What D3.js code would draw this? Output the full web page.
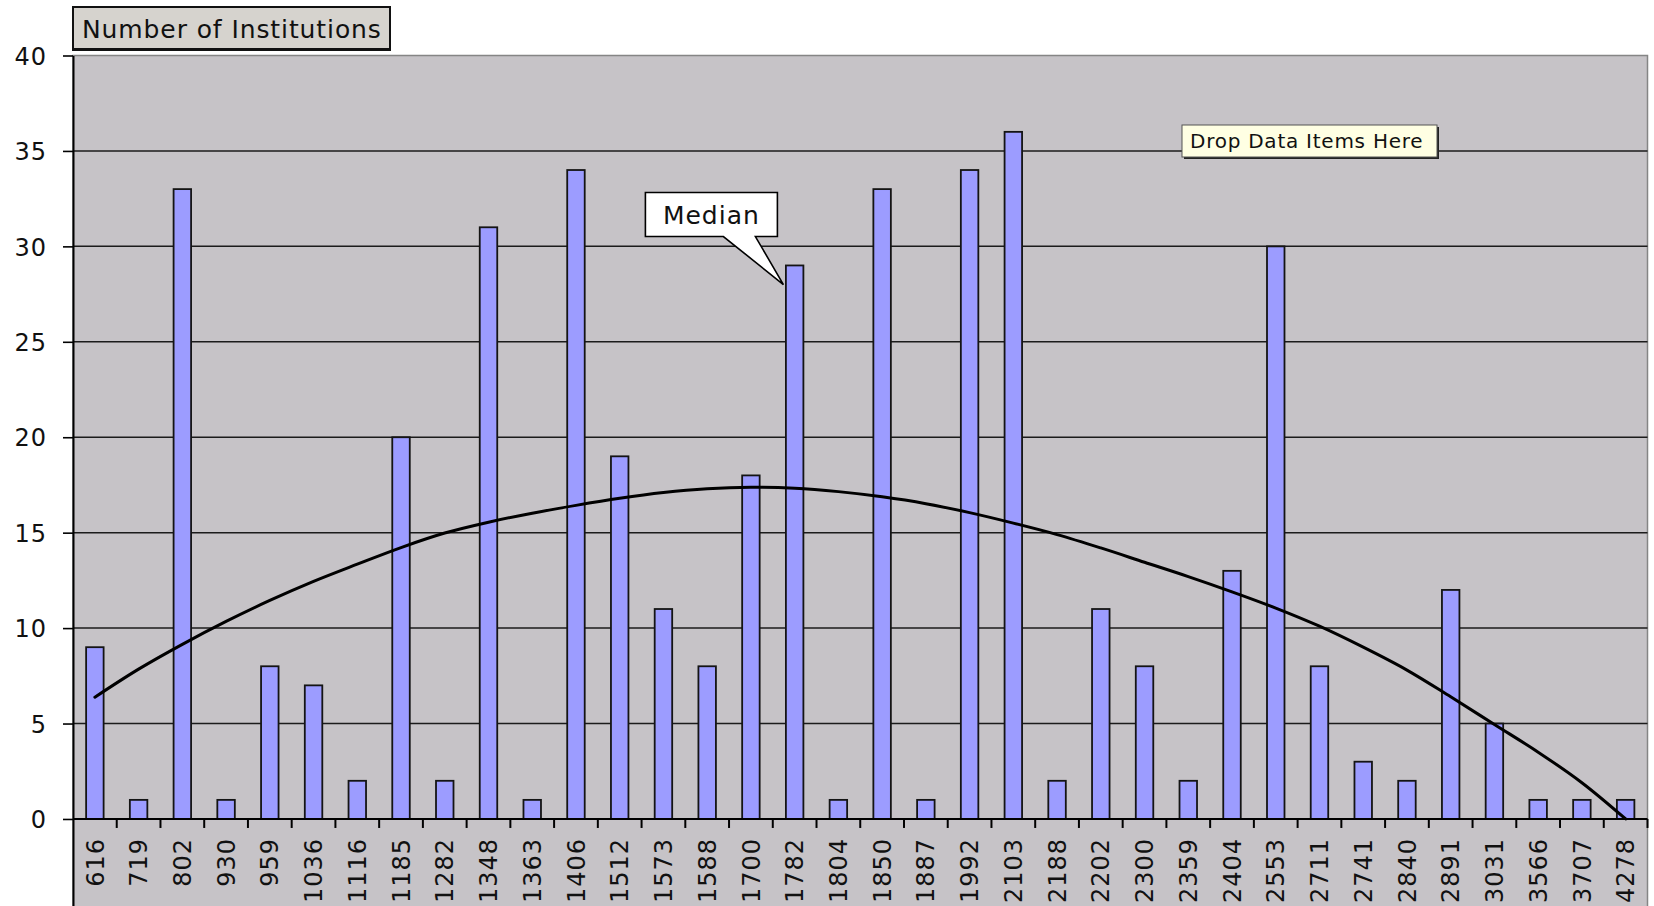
<!DOCTYPE html>
<html>
<head>
<meta charset="utf-8">
<script src="https://cdn.jsdelivr.net/npm/d3@7"></script>
<style>
  html, body { margin: 0; padding: 0; background: #ffffff; }
  svg { display: block; }
  text { font-family: "DejaVu Sans", Verdana, sans-serif; fill: #111; }
</style>
</head>
<body>
<svg id="chart" width="1654" height="906"></svg>
<script>
// ---- data ----
const categories = ["616","719","802","930","959","1036","1116","1185","1282","1348","1363","1406",
  "1512","1573","1588","1700","1782","1804","1850","1887","1992","2103","2188","2202","2300",
  "2359","2404","2553","2711","2741","2840","2891","3031","3566","3707","4278"];
const counts = [9,1,33,1,8,7,2,20,2,31,1,34,19,11,8,18,29,1,33,1,34,36,2,11,8,2,13,30,8,3,2,12,5,1,1,1];
// trendline values at each category
const trend = [6.38,7.85,9.15,10.35,11.45,12.45,13.35,14.22,14.98,15.55,16.02,16.43,16.8,17.1,17.3,17.38,
  17.33,17.15,16.88,16.52,16.05,15.5,14.9,14.2,13.45,12.7,11.9,11.05,10.1,9.0,7.8,6.4,4.95,3.5,1.9,0];
const yTicks = [-5,0,5,10,15,20,25,30,35,40];
const yDomain = [-5, 40];
const titleText = "Number of Institutions";
const medianLabel = "Median";
const medianCategory = "1782";
const medianPointerValue = 28;
const dropText = "Drop Data Items Here";

// ---- layout ----
const W = 1654, H = 906;
const plotLeft = 73, plotRight = 1647.5, plotTop = 55.5;
const svg = d3.select("#chart");

const y = d3.scaleLinear().domain(yDomain).range([914.4, plotTop]);
const xSlot = d3.scaleBand().domain(categories).range([plotLeft, plotRight]);
const x = d3.scaleBand().domain(categories).range([plotLeft, plotRight])
  .paddingInner(0.6).paddingOuter(0.3);

// plot area background
svg.append("rect")
  .attr("x", plotLeft).attr("y", plotTop)
  .attr("width", plotRight - plotLeft).attr("height", H - plotTop + 20)
  .attr("fill", "#c6c3c7").attr("stroke", "#858585").attr("stroke-width", 1.5);

// gridlines
svg.append("g").selectAll("line")
  .data(yTicks.filter(t => t !== 0 && t !== 40))
  .join("line")
  .attr("x1", plotLeft).attr("x2", plotRight)
  .attr("y1", d => y(d)).attr("y2", d => y(d))
  .attr("stroke", "#1b1b1b").attr("stroke-width", 1.5);

// bars
svg.append("g").selectAll("rect")
  .data(categories)
  .join("rect")
  .attr("x", d => x(d))
  .attr("width", x.bandwidth())
  .attr("y", (d, i) => y(counts[i]))
  .attr("height", (d, i) => y(0) - y(counts[i]))
  .attr("fill", "#9c9cff")
  .attr("stroke", "#141414").attr("stroke-width", 1.8);

// x axis line + labels
const xAxis = d3.axisBottom(x).tickSize(0).tickSizeOuter(0);
const gx = svg.append("g").attr("transform", `translate(0,${y(0)})`).call(xAxis);
gx.select(".domain").attr("stroke", "#000").attr("stroke-width", 2)
  .attr("d", `M${plotLeft},0H${plotRight}`);
gx.selectAll("text")
  .attr("transform", "rotate(-90)")
  .attr("x", -19).attr("y", 0)
  .attr("dy", "0.36em")
  .attr("text-anchor", "end")
  .style("font-size", "24px").style("letter-spacing", "1px").style("fill", "#111");
// boundary tick marks
gx.append("g").selectAll("line")
  .data(categories)
  .join("line")
  .attr("x1", d => xSlot(d) + xSlot.bandwidth()).attr("x2", d => xSlot(d) + xSlot.bandwidth())
  .attr("y1", 0).attr("y2", 9)
  .attr("stroke", "#000").attr("stroke-width", 2);

// y axis
const yAxis = d3.axisLeft(y).tickValues(yTicks).tickSize(10).tickPadding(16).tickSizeOuter(0)
  .tickFormat(d => String(d));
const gy = svg.append("g").attr("transform", `translate(${plotLeft},0)`).call(yAxis);
gy.select(".domain").attr("stroke", "#000").attr("stroke-width", 2);
gy.selectAll(".tick line").attr("stroke", "#000").attr("stroke-width", 1.6);
gy.selectAll("text").style("font-size", "24px").style("letter-spacing", "1px")
  .style("fill", "#111").attr("dy", "0.36em");

// trendline
const line = d3.line()
  .x((d, i) => x(categories[i]) + x.bandwidth() / 2)
  .y(d => y(d))
  .curve(d3.curveCatmullRom);
svg.append("path").datum(trend)
  .attr("d", line)
  .attr("fill", "none").attr("stroke", "#000").attr("stroke-width", 3)
  .attr("stroke-linecap", "round");

// Median callout
const tipX = x(medianCategory) - 2.5, tipY = y(medianPointerValue);
const bx0 = tipX - 138, bx1 = tipX - 6, by0 = tipY - 92, by1 = tipY - 48;
svg.append("path")
  .attr("d", `M${bx0},${by0}H${bx1}V${by1}H${tipX - 28}L${tipX},${tipY}L${tipX - 60},${by1}H${bx0}Z`)
  .attr("fill", "#fff").attr("stroke", "#000").attr("stroke-width", 1.6);
svg.append("text")
  .attr("x", (bx0 + bx1) / 2).attr("y", (by0 + by1) / 2)
  .attr("dy", "0.36em").attr("text-anchor", "middle")
  .style("font-size", "25px").style("letter-spacing", "1px")
  .text(medianLabel);

// Drop Data Items Here box
const dg = svg.append("g").attr("transform", "translate(1182,125)");
dg.append("rect").attr("x", 2).attr("y", 2).attr("width", 255).attr("height", 32).attr("fill", "#222");
dg.append("rect").attr("x", 0).attr("y", 0).attr("width", 255).attr("height", 32)
  .attr("fill", "#ffffe3").attr("stroke", "#555").attr("stroke-width", 1);
dg.append("text").attr("x", 8).attr("y", 16).attr("dy", "0.36em")
  .style("font-size", "20px").style("letter-spacing", "0.75px")
  .text(dropText);

// Title box
const tg = svg.append("g").attr("transform", "translate(73,7)");
tg.append("rect").attr("x", 0).attr("y", 0).attr("width", 317).attr("height", 43)
  .attr("fill", "#d6d3ce").attr("stroke", "#111").attr("stroke-width", 2);
tg.append("line").attr("x1", 1).attr("x2", 317).attr("y1", 42).attr("y2", 42)
  .attr("stroke", "#111").attr("stroke-width", 2);
tg.append("text").attr("x", 9).attr("y", 21.5).attr("dy", "0.36em")
  .style("font-size", "25px").style("letter-spacing", "0.9px")
  .text(titleText);
</script>
</body>
</html>
